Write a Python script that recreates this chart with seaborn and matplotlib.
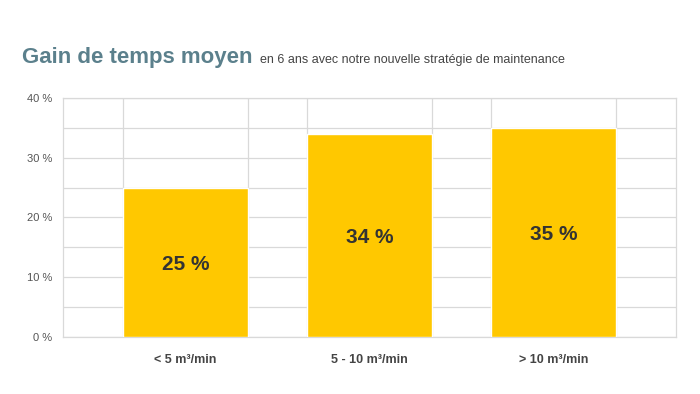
import seaborn as sns
import matplotlib.pyplot as plt
import pandas as pd

CATEGORIES = ["< 5 m³/min", "5 - 10 m³/min", "> 10 m³/min"]
VALUES = [25, 34, 35]
Y_TICKS = [0, 10, 20, 30, 40]
Y_MINOR = [5, 15, 25, 35]

BAR_COLOR = "#FFC800"
GRID_COLOR = "#D9D9D9"
TITLE_COLOR = "#5B808C"
OUTPUT_PATH = "out.png"


def main() -> None:
    df = pd.DataFrame({"Cat": CATEGORIES, "Val": VALUES})

    sns.set_theme(style="white")
    plt.rcParams["font.family"] = ["Liberation Sans", "DejaVu Sans"]

    fig = plt.figure(figsize=(7, 3.94), dpi=100)
    ax = fig.add_axes([0.09, 0.1447, 0.8757, 0.6066])

    sns.barplot(data=df, x="Cat", y="Val", color=BAR_COLOR, saturation=1,
                width=0.677, ax=ax, zorder=3)

    ax.set_xlim(-0.664, 2.664)
    ax.set_ylim(0, 40)
    ax.set_yticks(Y_TICKS)
    ax.set_yticks(Y_MINOR, minor=True)
    ax.set_yticklabels([f"{v} %" for v in Y_TICKS], fontsize=8, color="#555555")
    ax.set_xticks(range(len(CATEGORIES)))
    ax.set_xticklabels(CATEGORIES, fontsize=9, fontweight="bold", color="#444444")
    ax.tick_params(axis="both", which="both", length=0)
    ax.tick_params(axis="x", pad=12)
    ax.tick_params(axis="y", pad=8)

    ax.grid(True, axis="y", which="both", color=GRID_COLOR, linewidth=0.9, zorder=0)
    ax.set_axisbelow(True)
    for p in ax.patches:
        for x in (p.get_x(), p.get_x() + p.get_width()):
            ax.axvline(x, color=GRID_COLOR, linewidth=0.9, zorder=1)

    for spine in ax.spines.values():
        spine.set_color(GRID_COLOR)
        spine.set_linewidth(0.9)

    for p, v in zip(ax.patches, VALUES):
        ax.text(p.get_x() + p.get_width() / 2, v / 2, f"{v} %",
                ha="center", va="center_baseline", fontsize=15, fontweight="bold",
                color="#333333", zorder=4)

    ax.set_xlabel("")
    ax.set_ylabel("")

    fig.text(0.031, 0.84, "Gain de temps moyen", fontsize=16, fontweight="bold",
             color=TITLE_COLOR, va="baseline")
    fig.text(0.371, 0.84, "en 6 ans avec notre nouvelle stratégie de maintenance",
             fontsize=9, color="#444444", va="baseline")

    fig.savefig(OUTPUT_PATH, dpi=100)


if __name__ == "__main__":
    main()
